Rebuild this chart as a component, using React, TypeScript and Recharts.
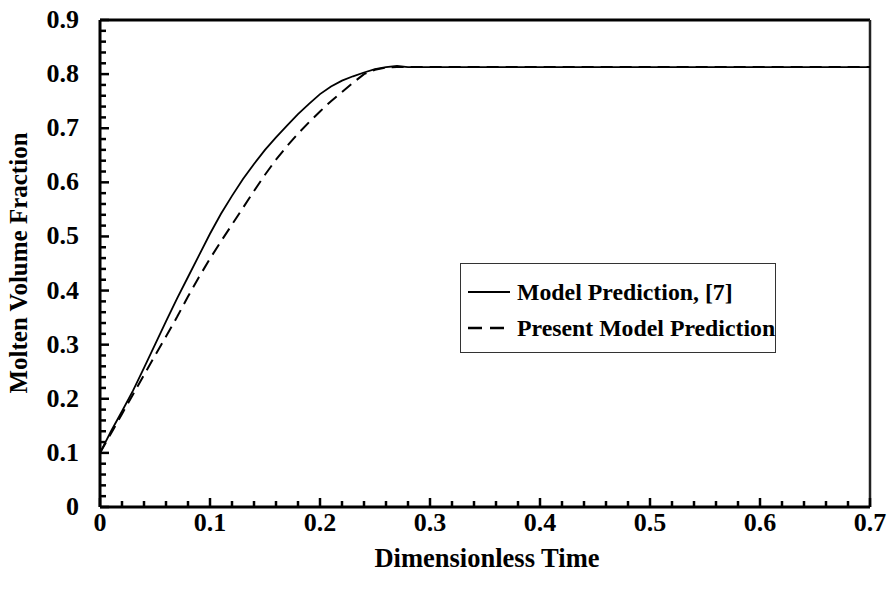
import React from 'react';
import { LineChart, Line, XAxis, YAxis, ReferenceLine, Legend } from 'recharts';

const modelRef = [
  { t: 0, v: 0.1 },
  { t: 0.01, v: 0.14 },
  { t: 0.02, v: 0.177 },
  { t: 0.03, v: 0.215 },
  { t: 0.04, v: 0.257 },
  { t: 0.05, v: 0.3 },
  { t: 0.06, v: 0.343 },
  { t: 0.07, v: 0.385 },
  { t: 0.08, v: 0.425 },
  { t: 0.09, v: 0.465 },
  { t: 0.1, v: 0.505 },
  { t: 0.11, v: 0.542 },
  { t: 0.12, v: 0.575 },
  { t: 0.13, v: 0.606 },
  { t: 0.14, v: 0.634 },
  { t: 0.15, v: 0.66 },
  { t: 0.16, v: 0.683 },
  { t: 0.17, v: 0.705 },
  { t: 0.18, v: 0.726 },
  { t: 0.19, v: 0.745 },
  { t: 0.2, v: 0.763 },
  { t: 0.21, v: 0.777 },
  { t: 0.22, v: 0.788 },
  { t: 0.23, v: 0.796 },
  { t: 0.24, v: 0.803 },
  { t: 0.25, v: 0.809 },
  { t: 0.26, v: 0.813 },
  { t: 0.27, v: 0.815 },
  { t: 0.28, v: 0.813 },
  { t: 0.7, v: 0.813 },
];

const presentModel = [
  { t: 0, v: 0.1 },
  { t: 0.01, v: 0.136 },
  { t: 0.02, v: 0.172 },
  { t: 0.03, v: 0.208 },
  { t: 0.04, v: 0.244 },
  { t: 0.05, v: 0.28 },
  { t: 0.06, v: 0.315 },
  { t: 0.07, v: 0.351 },
  { t: 0.08, v: 0.389 },
  { t: 0.09, v: 0.425 },
  { t: 0.1, v: 0.459 },
  { t: 0.11, v: 0.491 },
  { t: 0.12, v: 0.522 },
  { t: 0.13, v: 0.553 },
  { t: 0.14, v: 0.584 },
  { t: 0.15, v: 0.614 },
  { t: 0.16, v: 0.642 },
  { t: 0.17, v: 0.667 },
  { t: 0.18, v: 0.69 },
  { t: 0.19, v: 0.711 },
  { t: 0.2, v: 0.731 },
  { t: 0.21, v: 0.75 },
  { t: 0.22, v: 0.767 },
  { t: 0.23, v: 0.784 },
  { t: 0.24, v: 0.8 },
  { t: 0.25, v: 0.808 },
  { t: 0.26, v: 0.812 },
  { t: 0.27, v: 0.813 },
  { t: 0.7, v: 0.813 },
];

const xLabels = ['0', '0.1', '0.2', '0.3', '0.4', '0.5', '0.6', '0.7'];
const yLabels = ['0', '0.1', '0.2', '0.3', '0.4', '0.5', '0.6', '0.7', '0.8', '0.9'];

// minor ticks every 0.02, labels only on the 0.1 steps
const xTicks = Array.from({ length: 36 }, (_, i) => Math.round(i * 2) / 100);
const yTicks = Array.from({ length: 46 }, (_, i) => Math.round(i * 2) / 100);

const FONT = '"Liberation Serif", "Times New Roman", serif';
const TICK_FS = 26;
const TITLE_FS = 26.5;
const LEGEND_FS = 23.8;

const labelFor = (val: number, labels: string[]) => {
  const k = Math.round(val * 100);
  if (k % 10 !== 0) return null;
  return labels[k / 10];
};

const XTick = (props: any) => {
  const { x, y, payload } = props;
  const lab = labelFor(payload.value, xLabels);
  return (
    <g>
      <line x1={x} x2={x} y1={y} y2={y - (lab != null ? 9 : 6)} stroke="#000" strokeWidth={2.5} />
      {lab != null && (
        <text x={x} y={y + 24} textAnchor="middle" fontFamily={FONT} fontWeight="bold" fontSize={TICK_FS} fill="#000">
          {lab}
        </text>
      )}
    </g>
  );
};

const YTick = (props: any) => {
  const { x, y, payload } = props;
  const lab = labelFor(payload.value, yLabels);
  return (
    <g>
      <line x1={x} x2={x + (lab != null ? 9 : 6)} y1={y} y2={y} stroke="#000" strokeWidth={2.5} />
      {lab != null && (
        <text x={x - 21} y={y + 8} textAnchor="end" fontFamily={FONT} fontWeight="bold" fontSize={TICK_FS} fill="#000">
          {lab}
        </text>
      )}
    </g>
  );
};

const YTitle = () => (
  <text
    x={18}
    y={263}
    transform="rotate(-90, 18, 263)"
    textAnchor="middle"
    dominantBaseline="central"
    fontFamily={FONT}
    fontWeight="bold"
    fontSize={25}
    fill="#000"
  >
    Molten Volume Fraction
  </text>
);

const XTitle = () => (
  <text x={487} y={567} textAnchor="middle" fontFamily={FONT} fontWeight="bold" fontSize={TITLE_FS} fill="#000">
    Dimensionless Time
  </text>
);

const LegendBox = () => (
  <div
    style={{
      width: 314,
      height: 88,
      border: '1.5px solid #333',
      background: '#fff',
      fontFamily: FONT,
      fontWeight: 'bold',
      fontSize: LEGEND_FS,
      position: 'relative',
    }}
  >
    <svg width={50} height={88} style={{ position: 'absolute', left: 0, top: 0 }}>
      <line x1={7} x2={49} y1={28} y2={28} stroke="#000" strokeWidth={2} />
      <line x1={7} x2={43} y1={64} y2={64} stroke="#000" strokeWidth={2.5} strokeDasharray="14 8" />
    </svg>
    <div style={{ position: 'absolute', left: 56, top: 12, whiteSpace: 'nowrap', lineHeight: '32px' }}>
      Model Prediction, [7]
    </div>
    <div style={{ position: 'absolute', left: 56, top: 48, whiteSpace: 'nowrap', lineHeight: '32px' }}>
      Present Model Prediction
    </div>
  </div>
);

export default function App() {
  return (
    <div style={{ position: 'absolute', left: 0, top: 0, background: '#fff' }}>
      <LineChart width={890} height={598} margin={{ top: 20, right: 20, bottom: 0, left: 0 }}>
        <XAxis
          type="number"
          dataKey="t"
          domain={[0, 0.7]}
          ticks={xTicks}
          interval={0}
          tickSize={0}
          tickMargin={0}
          tick={<XTick />}
          axisLine={{ stroke: '#000', strokeWidth: 3 }}
          height={91}
          allowDataOverflow
          label={<XTitle />}
        />
        <YAxis
          type="number"
          dataKey="v"
          domain={[0, 0.9]}
          ticks={yTicks}
          interval={0}
          tickSize={0}
          tickMargin={0}
          tick={<YTick />}
          axisLine={{ stroke: '#000', strokeWidth: 3 }}
          width={100}
          allowDataOverflow
          label={<YTitle />}
        />
        <ReferenceLine y={0.9} stroke="#000" strokeWidth={3} />
        <ReferenceLine x={0.7} stroke="#222" strokeWidth={2.5} />
        <Line
          data={modelRef}
          dataKey="v"
          name="Model Prediction, [7]"
          type="linear"
          stroke="#000"
          strokeWidth={1.8}
          dot={false}
          isAnimationActive={false}
        />
        <Line
          data={presentModel}
          dataKey="v"
          name="Present Model Prediction"
          type="linear"
          stroke="#000"
          strokeWidth={2}
          strokeDasharray="12 7"
          dot={false}
          isAnimationActive={false}
        />
        <Legend
          layout="horizontal"
          verticalAlign="middle"
          align="center"
          content={<LegendBox />}
          wrapperStyle={{ position: 'absolute', left: 460, top: 263, width: 316, height: 90 }}
        />
      </LineChart>
    </div>
  );
}
